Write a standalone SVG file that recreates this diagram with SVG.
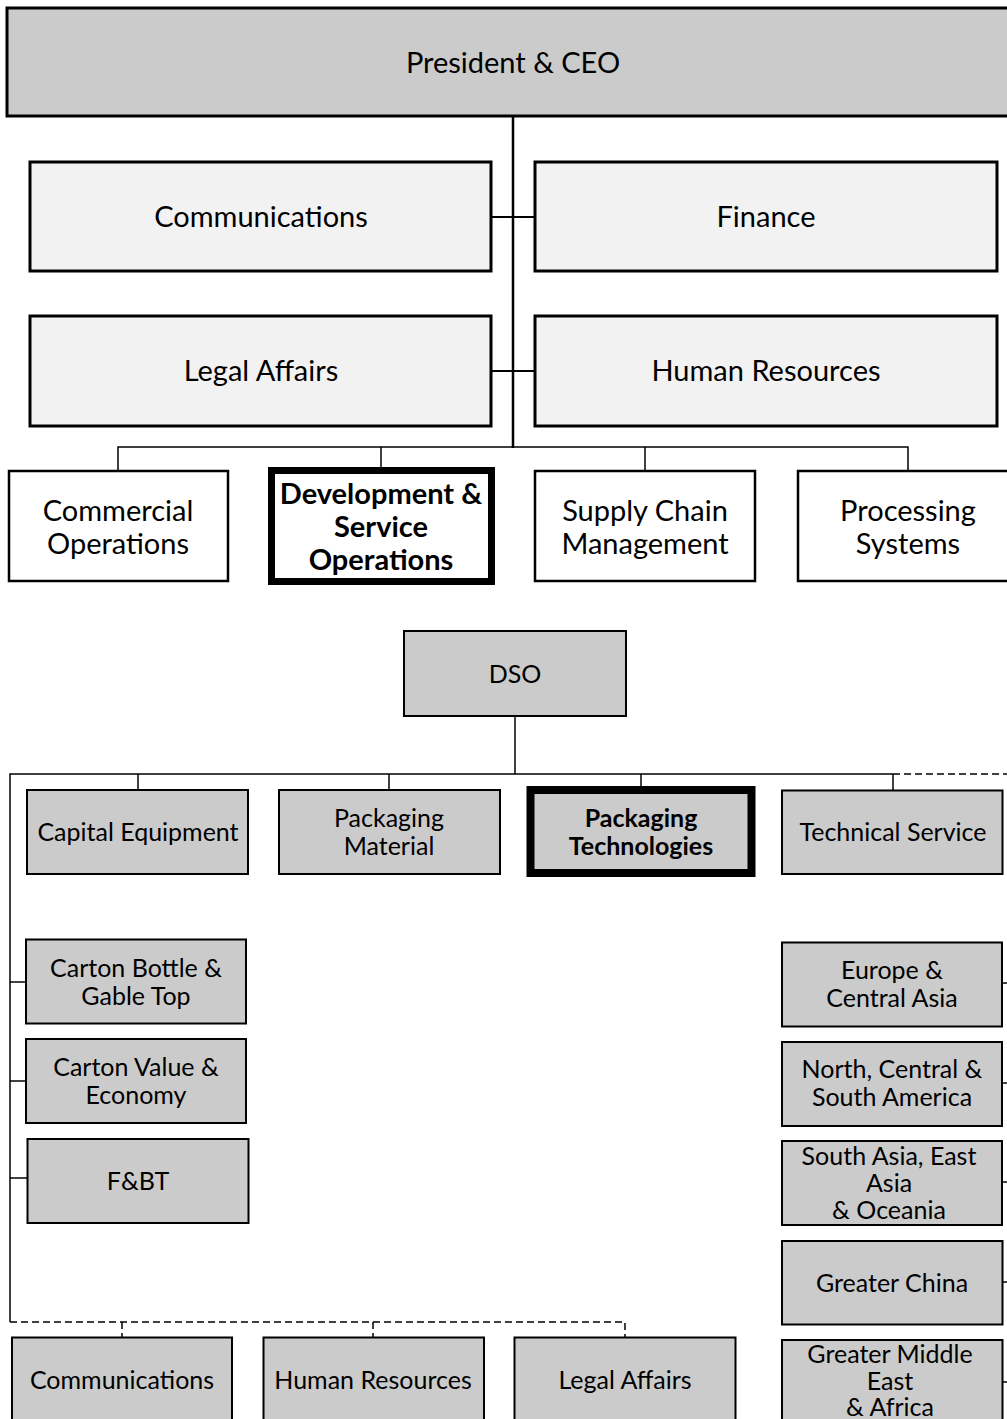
<svg xmlns="http://www.w3.org/2000/svg" width="1007" height="1419" viewBox="0 0 1007 1419">
<style>
text{font-family:Lato,"Open Sans","Liberation Sans",sans-serif;fill:#000;text-anchor:middle}
.t1{font-size:29px}
.t2{font-size:29px}
.tb{font-size:29px;font-weight:bold}
.t3{font-size:25px}
.t3b{font-size:25px;font-weight:bold}
.dark{fill:#cbcbcb;stroke:#000}
.light{fill:#f2f2f2;stroke:#000;stroke-width:3}
.white{fill:#fff;stroke:#000;stroke-width:2.5}
.low{fill:#cbcbcb;stroke:#000;stroke-width:2}
.ln{stroke:#000;fill:none}
.dash{stroke:#000;fill:none;stroke-width:1.5;stroke-dasharray:7 4}
</style>
<g id="connectors">
<line class="ln" stroke-width="2.5" x1="513" y1="116" x2="513" y2="448"/>
<line class="ln" stroke-width="2" x1="491" y1="217" x2="535" y2="217"/>
<line class="ln" stroke-width="2" x1="491" y1="371" x2="535" y2="371"/>
<polyline class="ln" stroke-width="1.5" points="118,471 118,447 908,447 908,471"/>
<line class="ln" stroke-width="1.5" x1="381" y1="447" x2="381" y2="468"/>
<line class="ln" stroke-width="1.5" x1="645" y1="447" x2="645" y2="471"/>
<line class="ln" stroke-width="1.5" x1="515" y1="716" x2="515" y2="774"/>
<polyline class="ln" stroke-width="1.5" points="10,1322 10,774 893,774"/>
<line class="dash" x1="893" y1="774" x2="1007" y2="774"/>
<line class="ln" stroke-width="1.5" x1="138" y1="774" x2="138" y2="790"/>
<line class="ln" stroke-width="1.5" x1="389" y1="774" x2="389" y2="790"/>
<line class="ln" stroke-width="1.5" x1="641" y1="774" x2="641" y2="787"/>
<line class="ln" stroke-width="1.5" x1="893" y1="774" x2="893" y2="791"/>
<line class="ln" stroke-width="1.5" x1="10" y1="982" x2="26" y2="982"/>
<line class="ln" stroke-width="1.5" x1="10" y1="1081" x2="26" y2="1081"/>
<line class="ln" stroke-width="1.5" x1="10" y1="1178" x2="27" y2="1178"/>
<line class="ln" stroke-width="1.5" x1="1002" y1="983" x2="1007" y2="983"/>
<line class="ln" stroke-width="1.5" x1="1002" y1="1083" x2="1007" y2="1083"/>
<line class="ln" stroke-width="1.5" x1="1002" y1="1182" x2="1007" y2="1182"/>
<line class="ln" stroke-width="1.5" x1="1002" y1="1282" x2="1007" y2="1282"/>
<line class="ln" stroke-width="1.5" x1="1002" y1="1382" x2="1007" y2="1382"/>
<polyline class="dash" points="10,1322 625,1322 625,1337"/>
<line class="dash" x1="122" y1="1322" x2="122" y2="1337"/>
<line class="dash" x1="373" y1="1322" x2="373" y2="1337"/>
</g>
<g id="president"><rect class="dark" stroke-width="3" x="7" y="8" width="1010" height="108"/><text class="t1" x="513" y="73">President &amp; CEO</text></g>
<g id="communications"><rect class="light" x="30" y="162" width="461" height="109"/><text class="t1" x="261" y="227">Communications</text></g>
<g id="finance"><rect class="light" x="535" y="162" width="462" height="109"/><text class="t1" x="766" y="227">Finance</text></g>
<g id="legal"><rect class="light" x="30" y="316" width="461" height="110"/><text class="t1" x="261" y="381">Legal Affairs</text></g>
<g id="hr"><rect class="light" x="535" y="316" width="462" height="110"/><text class="t1" x="766" y="381">Human Resources</text></g>
<g id="commercial"><rect class="white" x="9" y="471" width="219" height="110"/><text class="t2" x="118" y="521">Commercial</text><text class="t2" x="118" y="554">Operations</text></g>
<g id="dev"><rect fill="#fff" stroke="#000" stroke-width="7" x="271.5" y="470.5" width="220" height="111"/><text class="tb" x="381" y="504">Development &amp;</text><text class="tb" x="381" y="537">Service</text><text class="tb" x="381" y="570">Operations</text></g>
<g id="supply"><rect class="white" x="535" y="471" width="220" height="110"/><text class="t2" x="645" y="521">Supply Chain</text><text class="t2" x="645" y="554">Management</text></g>
<g id="processing"><rect class="white" x="798" y="471" width="220" height="110"/><text class="t2" x="908" y="521">Processing</text><text class="t2" x="908" y="554">Systems</text></g>
<g id="dso"><rect class="low" x="404" y="631" width="222" height="85"/><text class="t3" x="515" y="683">DSO</text></g>
<g id="capital"><rect class="low" x="27" y="790" width="221" height="84"/><text class="t3" x="138" y="841">Capital Equipment</text></g>
<g id="pkgmat"><rect class="low" x="279" y="790" width="221" height="84"/><text class="t3" x="389" y="827">Packaging</text><text class="t3" x="389" y="855">Material</text></g>
<g id="pkgtech"><rect fill="#cbcbcb" stroke="#000" stroke-width="8" x="530.5" y="790" width="221" height="83"/><text class="t3b" x="641" y="827">Packaging</text><text class="t3b" x="641" y="855">Technologies</text></g>
<g id="techservice"><rect class="low" x="782" y="790.5" width="220.5" height="83.5"/><text class="t3" x="893" y="841">Technical Service</text></g>
<g id="cbgt"><rect class="low" x="26" y="939.5" width="220" height="84"/><text class="t3" x="136" y="977">Carton Bottle &amp;</text><text class="t3" x="136" y="1005">Gable Top</text></g>
<g id="cve"><rect class="low" x="26" y="1039" width="220" height="84"/><text class="t3" x="136" y="1076">Carton Value &amp;</text><text class="t3" x="136" y="1104">Economy</text></g>
<g id="fbt"><rect class="low" x="27.5" y="1139" width="221" height="84"/><text class="t3" x="138" y="1190">F&amp;BT</text></g>
<g id="europe"><rect class="low" x="782" y="942.5" width="220" height="84"/><text class="t3" x="892" y="979">Europe &amp;</text><text class="t3" x="892" y="1007">Central Asia</text></g>
<g id="america"><rect class="low" x="782" y="1042" width="220" height="84"/><text class="t3" x="892" y="1078">North, Central &amp;</text><text class="t3" x="892" y="1106">South America</text></g>
<g id="asia"><rect class="low" x="782" y="1141" width="220" height="84"/><text class="t3" x="889" y="1165">South Asia, East</text><text class="t3" x="889" y="1192">Asia</text><text class="t3" x="889" y="1219">&amp; Oceania</text></g>
<g id="china"><rect class="low" x="782" y="1241" width="220.5" height="83.5"/><text class="t3" x="892" y="1292">Greater China</text></g>
<g id="mea"><rect class="low" x="782" y="1340" width="220.5" height="90"/><text class="t3" x="890" y="1363">Greater Middle</text><text class="t3" x="890" y="1390">East</text><text class="t3" x="890" y="1416">&amp; Africa</text></g>
<g id="b-comm"><rect class="low" x="12" y="1337.5" width="220" height="90"/><text class="t3" x="122" y="1389">Communications</text></g>
<g id="b-hr"><rect class="low" x="263.5" y="1337.5" width="220.5" height="90"/><text class="t3" x="373" y="1389">Human Resources</text></g>
<g id="b-legal"><rect class="low" x="514.5" y="1337.5" width="221" height="90"/><text class="t3" x="625" y="1389">Legal Affairs</text></g>
</svg>
